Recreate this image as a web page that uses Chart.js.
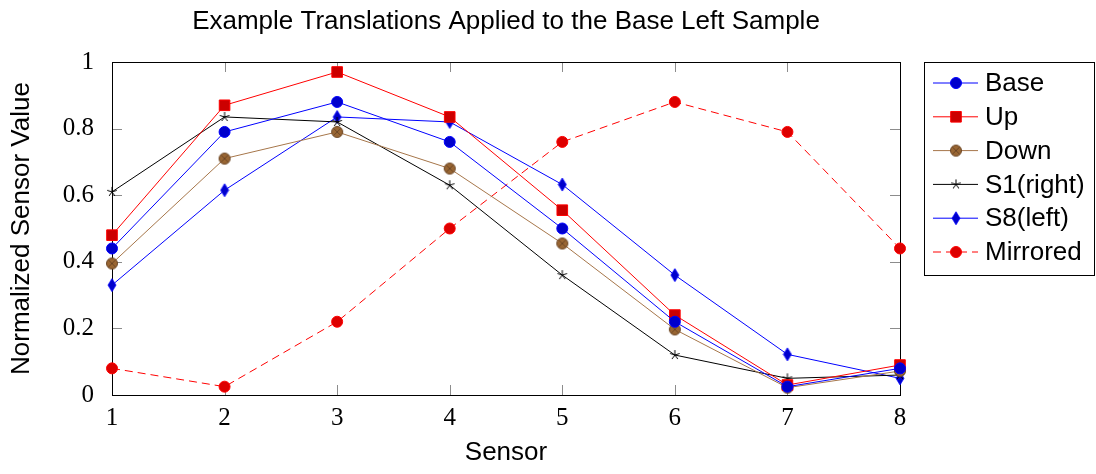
<!DOCTYPE html>
<html>
<head>
  <meta charset="utf-8" />
  <title>Example Translations Applied to the Base Left Sample</title>
  <script src="https://cdn.jsdelivr.net/npm/chart.js"></script>
  <style>
    html, body { margin: 0; padding: 0; background: #fff; }
    #wrap { width: 1096px; height: 474px; }
  </style>
</head>
<body>
  <div id="wrap"><canvas id="sensorChart"></canvas></div>
<script>
// sensor indices and normalized readings per variant
const sensors = [1, 2, 3, 4, 5, 6, 7, 8];
const base = [0.44, 0.79, 0.88, 0.76, 0.50, 0.22, 0.025, 0.08];
const up = [0.48, 0.87, 0.97, 0.835, 0.555, 0.24, 0.03, 0.09];
const down = [0.395, 0.71, 0.79, 0.68, 0.455, 0.197, 0.022, 0.072];
const s1Right = [0.61, 0.835, 0.82, 0.63, 0.36, 0.12, 0.05, 0.06];
const s8Left = [0.33, 0.615, 0.835, 0.82, 0.632, 0.36, 0.122, 0.05];
const mirrored = [0.08, 0.025, 0.22, 0.50, 0.76, 0.88, 0.79, 0.44];
const yTicks = [0, 0.2, 0.4, 0.6, 0.8, 1];
const chartTitle = 'Example Translations Applied to the Base Left Sample';

const sansFont = "'Liberation Sans', Arial, sans-serif";
const serifFont = "'Liberation Serif', 'Times New Roman', serif";

// circle with a cross through it (otimes marker)
function makeOtimes(fill, stroke, r) {
  const c = document.createElement('canvas');
  const s = Math.ceil(r * 2 + 3);
  c.width = s; c.height = s;
  const g = c.getContext('2d');
  const m = s / 2;
  g.beginPath();
  g.arc(m, m, r, 0, Math.PI * 2);
  g.fillStyle = fill;
  g.fill();
  g.lineWidth = 1;
  g.strokeStyle = stroke;
  g.stroke();
  const d = r * Math.SQRT1_2;
  g.beginPath();
  g.moveTo(m - d, m - d); g.lineTo(m + d, m + d);
  g.moveTo(m + d, m - d); g.lineTo(m - d, m + d);
  g.stroke();
  return c;
}

// tall diamond marker
function makeDiamond(fill, stroke, w, h) {
  const c = document.createElement('canvas');
  c.width = w + 2; c.height = h + 2;
  const g = c.getContext('2d');
  const cx = c.width / 2, cy = c.height / 2;
  g.beginPath();
  g.moveTo(cx, cy - h / 2);
  g.lineTo(cx + w / 2, cy);
  g.lineTo(cx, cy + h / 2);
  g.lineTo(cx - w / 2, cy);
  g.closePath();
  g.fillStyle = fill;
  g.fill();
  g.strokeStyle = stroke;
  g.lineWidth = 0.8;
  g.stroke();
  return c;
}

// five-armed asterisk
function makeAsterisk(stroke, r) {
  const c = document.createElement('canvas');
  const s = Math.ceil(r * 2 + 2);
  c.width = s; c.height = s;
  const g = c.getContext('2d');
  const m = s / 2;
  g.strokeStyle = stroke;
  g.lineWidth = 1;
  g.beginPath();
  for (let k = 0; k < 5; k++) {
    const ang = -Math.PI / 2 + k * 2 * Math.PI / 5;
    g.moveTo(m, m);
    g.lineTo(m + r * Math.cos(ang), m + r * Math.sin(ang));
  }
  g.stroke();
  return c;
}

const otimes = makeOtimes('#996633', '#6b4524', 5.5);
const diamond = makeDiamond('#0000cc', '#0000ff', 8, 13);
const asterisk = makeAsterisk('#000', 5);

function pts(vals) {
  return sensors.map((s, i) => ({ x: s, y: vals[i] }));
}

function series(label, vals, line, fill, style, radius, extra) {
  return Object.assign({
    label,
    data: pts(vals),
    borderColor: line,
    borderWidth: 1,
    backgroundColor: fill,
    pointStyle: style,
    pointRadius: radius,
    pointHoverRadius: radius,
    pointBorderColor: line,
    pointBackgroundColor: fill,
    pointBorderWidth: 1,
    tension: 0,
    fill: false,
    clip: false
  }, extra || {});
}

const datasets = [
  series('Base', base, '#0000ff', '#0000cc', 'circle', 5.5),
  series('Up', up, '#ff0000', '#cc0000', 'rect', 7.5),
  series('Down', down, '#a6764a', '#996633', otimes, 5.5),
  series('S1(right)', s1Right, '#000000', '#000000', asterisk, 5),
  series('S8(left)', s8Left, '#0000ff', '#0000cc', diamond, 6),
  series('Mirrored', mirrored, '#ff0000', '#dd0000', 'circle', 5.5, { borderDash: [8, 5] })
];

// title over the plot, box frame, inward tick marks and the boxed legend
const framePlugin = {
  id: 'frame',
  beforeDatasetsDraw(chart) {
    const { ctx, chartArea: a, scales } = chart;
    ctx.save();
    ctx.strokeStyle = '#8c8c8c';
    ctx.lineWidth = 1;
    const tl = 10;
    sensors.forEach(s => {
      const x = Math.round(scales.x.getPixelForValue(s)) + 0.5;
      ctx.beginPath();
      ctx.moveTo(x, a.bottom); ctx.lineTo(x, a.bottom - tl);
      ctx.moveTo(x, a.top); ctx.lineTo(x, a.top + tl);
      ctx.stroke();
    });
    yTicks.forEach(v => {
      const y = Math.round(scales.y.getPixelForValue(v)) + 0.5;
      ctx.beginPath();
      ctx.moveTo(a.left, y); ctx.lineTo(a.left + tl, y);
      ctx.moveTo(a.right, y); ctx.lineTo(a.right - tl, y);
      ctx.stroke();
    });
    ctx.strokeStyle = '#000';
    ctx.strokeRect(Math.round(a.left) + 0.5, Math.round(a.top) + 0.5,
      Math.round(a.right - a.left), Math.round(a.bottom - a.top));
    ctx.restore();
  },
  afterDraw(chart) {
    const { ctx, chartArea: a } = chart;
    ctx.save();
    ctx.fillStyle = '#000';
    ctx.font = '26px ' + sansFont;
    ctx.textAlign = 'center';
    ctx.textBaseline = 'middle';
    ctx.fillText(chartTitle, (a.left + a.right) / 2, 22);

    const bx = a.right + 24, by = a.top, bw = 170, bh = 213;
    const rowH = 33.8;
    ctx.strokeStyle = '#000';
    ctx.lineWidth = 1;
    ctx.strokeRect(bx + 0.5, by + 0.5, bw, bh);
    ctx.textAlign = 'left';
    chart.data.datasets.forEach((ds, i) => {
      const y = by + 21 + i * rowH;
      ctx.save();
      ctx.strokeStyle = ds.borderColor;
      ctx.lineWidth = 1;
      ctx.setLineDash(ds.borderDash || []);
      ctx.beginPath();
      ctx.moveTo(bx + 9, y); ctx.lineTo(bx + 54, y);
      ctx.stroke();
      ctx.setLineDash([]);
      ctx.fillStyle = ds.pointBackgroundColor;
      ctx.strokeStyle = ds.pointBorderColor;
      Chart.helpers.drawPoint(ctx, {
        pointStyle: ds.pointStyle,
        radius: ds.pointRadius,
        rotation: 0,
        borderWidth: 1
      }, bx + 32, y);
      ctx.restore();
      ctx.fillText(ds.label, bx + 61, y + 1);
    });
    ctx.restore();
  }
};

new Chart(document.getElementById('sensorChart'), {
  type: 'line',
  data: { datasets },
  options: {
    responsive: true,
    maintainAspectRatio: false,
    animation: false,
    events: [],
    layout: { padding: { left: 0, right: 196, top: 62, bottom: 0 } },
    plugins: {
      legend: { display: false },
      tooltip: { enabled: false },
      title: { display: false }
    },
    scales: {
      x: {
        type: 'linear',
        min: 1,
        max: 8,
        afterFit(scale) { scale.height = 79; },
        afterBuildTicks(scale) { scale.ticks = sensors.map(v => ({ value: v })); },
        grid: { display: false },
        border: { display: false },
        ticks: {
          color: '#000',
          padding: 0,
          font: { family: serifFont, size: 25 },
          callback: v => String(v)
        },
        title: {
          display: true,
          text: 'Sensor',
          color: '#000',
          font: { family: sansFont, size: 26 },
          padding: { top: 0, bottom: 6 }
        }
      },
      y: {
        min: 0,
        max: 1,
        afterFit(scale) { scale.width = 112; },
        afterBuildTicks(scale) { scale.ticks = yTicks.map(v => ({ value: v })); },
        grid: { display: false },
        border: { display: false },
        ticks: {
          color: '#000',
          padding: 10,
          font: { family: serifFont, size: 25 },
          callback: v => String(v)
        },
        title: {
          display: true,
          text: 'Normalized Sensor Value',
          color: '#000',
          font: { family: sansFont, size: 26 },
          padding: { top: 6, bottom: 0 }
        }
      }
    }
  },
  plugins: [framePlugin]
});
</script>
</body>
</html>
